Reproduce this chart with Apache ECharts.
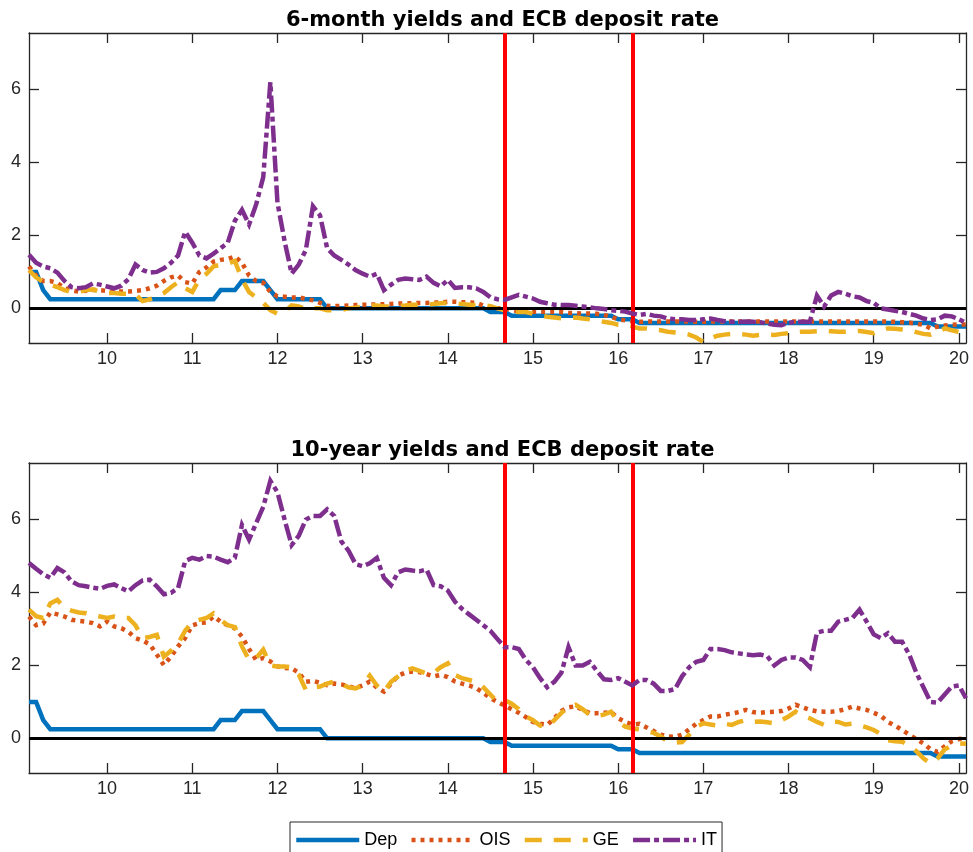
<!DOCTYPE html>
<html>
<head>
<meta charset="utf-8">
<script src="https://cdn.jsdelivr.net/npm/echarts@6/dist/echarts.min.js"></script>
<style>
html,body{margin:0;padding:0;background:#fff;}
#chart{width:973px;height:852px;}
</style>
</head>
<body>
<div id="chart"></div>
<script>
// Monthly observations, Jan 2009 .. Jan 2020 (x = year-2000 + month/12)
const startYear = 2009, nMonths = 133;
const xTicks = [10, 11, 12, 13, 14, 15, 16, 17, 18, 19, 20];
const yTicks = [0, 2, 4, 6];
const titles = ['6-month yields and ECB deposit rate', '10-year yields and ECB deposit rate'];
const seriesNames = ['Dep', 'OIS', 'GE', 'IT'];
const eventDates = [14 + 8 / 12, 16 + 2 / 12];

const dep = [
  1.0, 1.0, 0.5, 0.25, 0.25, 0.25, 0.25, 0.25, 0.25, 0.25, 0.25, 0.25,
  0.25, 0.25, 0.25, 0.25, 0.25, 0.25, 0.25, 0.25, 0.25, 0.25, 0.25, 0.25,
  0.25, 0.25, 0.25, 0.5, 0.5, 0.5, 0.75, 0.75, 0.75, 0.75, 0.5, 0.25,
  0.25, 0.25, 0.25, 0.25, 0.25, 0.25, 0, 0, 0, 0, 0, 0,
  0, 0, 0, 0, 0, 0, 0, 0, 0, 0, 0, 0,
  0, 0, 0, 0, 0, -0.1, -0.1, -0.1, -0.2, -0.2, -0.2, -0.2,
  -0.2, -0.2, -0.2, -0.2, -0.2, -0.2, -0.2, -0.2, -0.2, -0.2, -0.2, -0.3,
  -0.3, -0.3, -0.4, -0.4, -0.4, -0.4, -0.4, -0.4, -0.4, -0.4, -0.4, -0.4,
  -0.4, -0.4, -0.4, -0.4, -0.4, -0.4, -0.4, -0.4, -0.4, -0.4, -0.4, -0.4,
  -0.4, -0.4, -0.4, -0.4, -0.4, -0.4, -0.4, -0.4, -0.4, -0.4, -0.4, -0.4,
  -0.4, -0.4, -0.4, -0.4, -0.4, -0.4, -0.4, -0.4, -0.5, -0.5, -0.5, -0.5,
  -0.5
];

const ois6 = [
  1.15, 0.9, 0.75, 0.75, 0.7, 0.55, 0.5, 0.46, 0.48, 0.5, 0.5, 0.48,
  0.46, 0.46, 0.46, 0.48, 0.5, 0.55, 0.62, 0.75, 0.85, 0.9, 0.72, 0.68,
  1.0, 1.12, 1.28, 1.33, 1.35, 1.42, 1.25, 0.9, 0.75, 0.7, 0.45, 0.33,
  0.32, 0.3, 0.3, 0.26, 0.22, 0.15, 0.07, 0.06, 0.07, 0.08, 0.09, 0.1,
  0.1, 0.11, 0.11, 0.12, 0.13, 0.14, 0.14, 0.15, 0.15, 0.16, 0.16, 0.18,
  0.18, 0.17, 0.16, 0.15, 0.08, 0.02, 0.0, 0.0, -0.05, -0.08, -0.09, -0.09,
  -0.09, -0.09, -0.09, -0.1, -0.12, -0.13, -0.14, -0.14, -0.15, -0.18, -0.23, -0.3,
  -0.33, -0.36, -0.37, -0.36, -0.36, -0.36, -0.36, -0.36, -0.36, -0.36, -0.37, -0.37,
  -0.36, -0.36, -0.36, -0.36, -0.36, -0.36, -0.36, -0.36, -0.36, -0.36, -0.36, -0.36,
  -0.36, -0.36, -0.36, -0.36, -0.36, -0.36, -0.36, -0.36, -0.36, -0.36, -0.36, -0.36,
  -0.36, -0.36, -0.37, -0.38, -0.39, -0.42, -0.45, -0.55, -0.5, -0.47, -0.45, -0.44,
  -0.44
];

const ge6 = [
  1.05, 0.85, 0.72, 0.65, 0.58, 0.5, 0.45, 0.45, 0.5, 0.52, 0.45, 0.42,
  0.42, 0.4, 0.4, 0.38, 0.2, 0.25, 0.33, 0.42, 0.58, 0.72, 0.55, 0.45,
  0.8, 0.95, 1.15, 1.2, 1.22, 1.3, 0.8, 0.45, 0.3, 0.15, -0.05, -0.15,
  -0.1, 0.08, 0.05, -0.02, 0.0, 0.0, -0.05, -0.05, -0.05, 0.0, 0.02, 0.05,
  0.08, 0.08, 0.05, 0.05, 0.07, 0.08, 0.1, 0.1, 0.1, 0.12, 0.14, 0.15,
  0.14, 0.12, 0.1, 0.08, 0.09, 0.06, 0.0, -0.05, -0.09, -0.1, -0.1, -0.15,
  -0.2, -0.23, -0.25, -0.27, -0.27, -0.25, -0.28, -0.3, -0.33, -0.37, -0.4, -0.45,
  -0.46, -0.5, -0.55, -0.55, -0.58, -0.6, -0.64, -0.66, -0.68, -0.72, -0.8, -0.92,
  -0.82, -0.75, -0.72, -0.7, -0.7, -0.72, -0.75, -0.73, -0.72, -0.73, -0.7, -0.68,
  -0.65, -0.64, -0.64, -0.63, -0.62, -0.63, -0.64, -0.64, -0.63, -0.62, -0.65, -0.68,
  -0.6, -0.55, -0.56, -0.58, -0.6, -0.65, -0.7, -0.72, -0.65, -0.55, -0.6, -0.65,
  -0.7
];

const it6 = [
  1.47, 1.25, 1.15, 1.1, 0.98, 0.75, 0.58, 0.55, 0.58, 0.68, 0.65, 0.6,
  0.55, 0.62, 0.8, 1.2, 1.05, 0.98, 1.0, 1.1, 1.25, 1.45, 2.1, 1.8,
  1.45, 1.37, 1.5, 1.65, 1.8, 2.4, 2.7, 2.3, 2.85, 3.6, 6.2, 2.9,
  1.85, 0.95, 1.2, 1.6, 2.8, 2.55, 1.65, 1.45, 1.33, 1.2, 1.05, 0.95,
  0.87, 0.95, 0.5, 0.65, 0.78, 0.82, 0.8, 0.78, 0.87, 0.7, 0.6, 0.78,
  0.56, 0.58, 0.58, 0.55, 0.45, 0.3, 0.25, 0.23, 0.3, 0.37, 0.32, 0.27,
  0.18, 0.14, 0.1, 0.09, 0.09, 0.07, 0.05, 0.03, 0.0, -0.02, -0.05, -0.07,
  -0.09, -0.14, -0.18, -0.15, -0.2, -0.22, -0.28, -0.3, -0.3, -0.32, -0.32, -0.3,
  -0.28, -0.32, -0.35, -0.37, -0.37, -0.36, -0.37, -0.38, -0.42, -0.45, -0.46, -0.4,
  -0.37, -0.37, -0.37, 0.35, 0.05, 0.35, 0.45, 0.4, 0.33, 0.3, 0.2, 0.15,
  0.0, -0.03, -0.07, -0.1, -0.15, -0.2, -0.28, -0.32, -0.3, -0.2, -0.22, -0.3,
  -0.4
];

const ois10 = [
  3.34, 3.1, 3.15, 3.45, 3.4, 3.34, 3.25, 3.22, 3.2, 3.16, 3.07, 3.2,
  3.07, 3.02, 2.92, 2.75, 2.68, 2.58, 2.3, 2.01, 2.24, 2.52, 2.75, 3.1,
  3.16, 3.18, 3.34, 3.2, 3.1, 3.02, 2.79, 2.45, 2.15, 2.2, 2.11, 1.97,
  1.93, 1.92, 1.8, 1.55, 1.58, 1.52, 1.46, 1.5, 1.48, 1.43, 1.38, 1.45,
  1.56, 1.4, 1.28, 1.5, 1.72, 1.8, 1.83, 1.82, 1.76, 1.7, 1.74, 1.68,
  1.56, 1.5, 1.45, 1.38, 1.25, 1.1, 1.0, 0.9, 0.8, 0.7, 0.58, 0.45,
  0.4, 0.37, 0.55, 0.75, 0.85, 0.88, 0.78, 0.69, 0.69, 0.7, 0.72, 0.55,
  0.45, 0.38, 0.4, 0.3, 0.2, 0.1, 0.05, 0.04, 0.1, 0.25, 0.4, 0.5,
  0.6, 0.6, 0.65, 0.68, 0.72, 0.78, 0.72, 0.7, 0.72, 0.73, 0.75, 0.82,
  0.92, 0.85, 0.78, 0.74, 0.73, 0.73, 0.75, 0.8, 0.87, 0.82, 0.78, 0.7,
  0.62, 0.45, 0.35, 0.23, 0.1, -0.02, -0.14, -0.3, -0.37, -0.22, -0.08, -0.02,
  0.0
];

const ge10 = [
  3.53, 3.35, 3.3, 3.7, 3.8, 3.57, 3.5, 3.45, 3.43, 3.38, 3.34, 3.3,
  3.34, 3.3, 3.3, 3.1, 2.75, 2.78, 2.84, 2.24, 2.4, 2.6, 2.95, 3.2,
  3.25, 3.3, 3.43, 3.25, 3.1, 3.05, 2.52, 2.15, 2.2, 2.43, 2.0, 1.97,
  1.97, 1.95, 1.75, 1.33, 1.4, 1.42, 1.5, 1.56, 1.5, 1.4, 1.37, 1.45,
  1.72, 1.45, 1.28, 1.55, 1.7, 1.85, 1.92, 1.85, 1.78, 1.8, 1.95, 2.06,
  1.74, 1.65, 1.6, 1.55, 1.4, 1.2, 1.0, 1.05, 0.95, 0.8, 0.6, 0.5,
  0.35, 0.32, 0.5, 0.7, 0.85, 0.92, 0.8, 0.64, 0.62, 0.65, 0.73, 0.45,
  0.32, 0.27, 0.25, 0.2, 0.15, 0.05, -0.09, -0.12, -0.1, 0.1, 0.32, 0.41,
  0.38, 0.35, 0.4, 0.37, 0.45, 0.5, 0.45, 0.46, 0.44, 0.41, 0.5, 0.6,
  0.73, 0.62, 0.55, 0.45, 0.37, 0.46, 0.45, 0.38, 0.4, 0.36, 0.3, 0.23,
  0.12, -0.05, -0.08, -0.09, -0.2, -0.35, -0.55, -0.69, -0.55, -0.3, -0.2, -0.14,
  -0.15
];

const it10 = [
  4.81, 4.65, 4.5, 4.4, 4.67, 4.55, 4.3, 4.2, 4.17, 4.13, 4.1, 4.18,
  4.22, 4.12, 4.03, 4.2, 4.33, 4.35, 4.17, 3.95, 3.99, 4.12, 4.86, 4.95,
  4.9, 5.0, 4.98, 4.9, 4.83, 4.95, 5.85, 5.45, 5.9, 6.35, 7.06, 6.75,
  6.0, 5.3, 5.55, 6.0, 6.1, 6.1, 6.28, 6.1, 5.4, 5.15, 4.78, 4.72,
  4.8, 4.95, 4.4, 4.2, 4.55, 4.63, 4.6, 4.58, 4.63, 4.2, 4.17, 4.05,
  3.75, 3.55, 3.4, 3.25, 3.1, 2.95, 2.72, 2.5, 2.5, 2.45, 2.15, 1.95,
  1.65, 1.4, 1.55, 1.8, 2.5, 2.0, 2.0, 2.1, 1.85, 1.62, 1.6, 1.65,
  1.55, 1.45, 1.6, 1.6, 1.5, 1.3, 1.3, 1.35, 1.7, 1.95, 2.1, 2.15,
  2.45, 2.45, 2.42, 2.36, 2.33, 2.3, 2.28, 2.3, 2.25, 2.0, 2.15, 2.22,
  2.22, 2.15, 1.95, 2.9, 2.95, 2.95, 3.2, 3.25, 3.3, 3.53, 3.2, 2.85,
  2.75, 2.88, 2.65, 2.65, 2.3, 1.8, 1.4, 1.0, 0.98, 1.2, 1.42, 1.45,
  1.1
];

const panels = [[dep, ois6, ge6, it6], [dep, ois10, ge10, it10]];

// time positions of the monthly observations
const xs = [];
for (let i = 0; i < nMonths; i++) xs.push(startYear - 2000 + (i + 1) / 12);
const xMin = xs[0], xMax = xs[nMonths - 1];

const colors = ['#0072BD', '#D95319', '#EDB120', '#7E2F8E'];
const dashes = ['solid', [4, 5], [17, 12], [17, 4, 5, 4]];
const axisColor = '#262626';
const labelFont = 'Liberation Sans, Arial, Helvetica, sans-serif';
const titleFont = 'DejaVu Sans, sans-serif';

const grids = [
  {left: 29, top: 33, width: 937, height: 310},
  {left: 29, top: 463, width: 937, height: 310}
];

const xAxes = [], yAxes = [], series = [];
grids.forEach((g, gi) => {
  const axLine = {show: true, onZero: false, lineStyle: {color: axisColor, width: 1.3}};
  const tick = {show: true, inside: true, length: 10, lineStyle: {color: axisColor, width: 1.3}};
  xAxes.push({
    type: 'value', gridIndex: gi, position: 'bottom', min: xMin, max: xMax,
    axisLine: axLine, splitLine: {show: false},
    axisTick: Object.assign({customValues: xTicks}, tick),
    axisLabel: {customValues: xTicks, color: axisColor, fontSize: 18, fontFamily: labelFont, margin: 7,
      formatter: v => String(Math.round(v))}
  });
  xAxes.push({
    type: 'value', gridIndex: gi, position: 'top', min: xMin, max: xMax,
    axisLine: axLine, splitLine: {show: false},
    axisTick: Object.assign({customValues: xTicks}, tick),
    axisLabel: {show: false}
  });
  yAxes.push({
    type: 'value', gridIndex: gi, position: 'left', min: -0.95, max: 7.55,
    axisLine: axLine, splitLine: {show: false},
    axisTick: Object.assign({customValues: yTicks}, tick),
    axisLabel: {customValues: yTicks, color: axisColor, fontSize: 18, fontFamily: labelFont, margin: 8,
      formatter: v => String(Math.round(v))}
  });
  yAxes.push({
    type: 'value', gridIndex: gi, position: 'right', min: -0.95, max: 7.55,
    axisLine: axLine, splitLine: {show: false},
    axisTick: Object.assign({customValues: yTicks}, tick),
    axisLabel: {show: false}
  });
  panels[gi].forEach((arr, si) => {
    const s = {
      type: 'line', name: seriesNames[si], xAxisIndex: gi * 2, yAxisIndex: gi * 2,
      data: xs.map((x, i) => [x, arr[i]]),
      symbol: 'none', showSymbol: false, smooth: false, silent: true,
      lineStyle: {color: colors[si], width: 4.5, type: dashes[si], cap: 'butt', join: 'miter'},
      itemStyle: {color: colors[si]},
      z: 2 + si
    };
    if (si === 3) {
      s.markLine = {
        silent: true, symbol: 'none', animation: false,
        label: {show: false},
        emphasis: {disabled: true},
        data: [
          {yAxis: 0, lineStyle: {color: '#000000', width: 3, type: 'solid'}},
          {xAxis: eventDates[0], lineStyle: {color: '#FF0000', width: 4, type: 'solid'}},
          {xAxis: eventDates[1], lineStyle: {color: '#FF0000', width: 4, type: 'solid'}}
        ]
      };
    }
    series.push(s);
  });
});

const chart = echarts.init(document.getElementById('chart'), null, {renderer: 'canvas'});
chart.setOption({
  animation: false,
  backgroundColor: '#ffffff',
  title: [
    {text: titles[0], left: 497.5, top: 5, textAlign: 'center',
      textStyle: {fontFamily: titleFont, fontWeight: 'bold', fontSize: 21, color: '#000'}},
    {text: titles[1], left: 497.5, top: 435, textAlign: 'center',
      textStyle: {fontFamily: titleFont, fontWeight: 'bold', fontSize: 21, color: '#000'}}
  ],
  grid: grids,
  xAxis: xAxes,
  yAxis: yAxes,
  legend: {
    data: seriesNames,
    orient: 'horizontal',
    left: 290, top: 822,
    padding: [9, 5, 22, 4],
    itemGap: 12,
    itemWidth: 63,
    itemHeight: 14,
    borderColor: axisColor,
    borderWidth: 1,
    backgroundColor: '#ffffff',
    selectedMode: false,
    itemStyle: {opacity: 0, borderWidth: 0},
    lineStyle: {width: 4.5},
    textStyle: {fontFamily: labelFont, fontSize: 18, color: '#000'}
  },
  series: series
});
</script>
</body>
</html>
